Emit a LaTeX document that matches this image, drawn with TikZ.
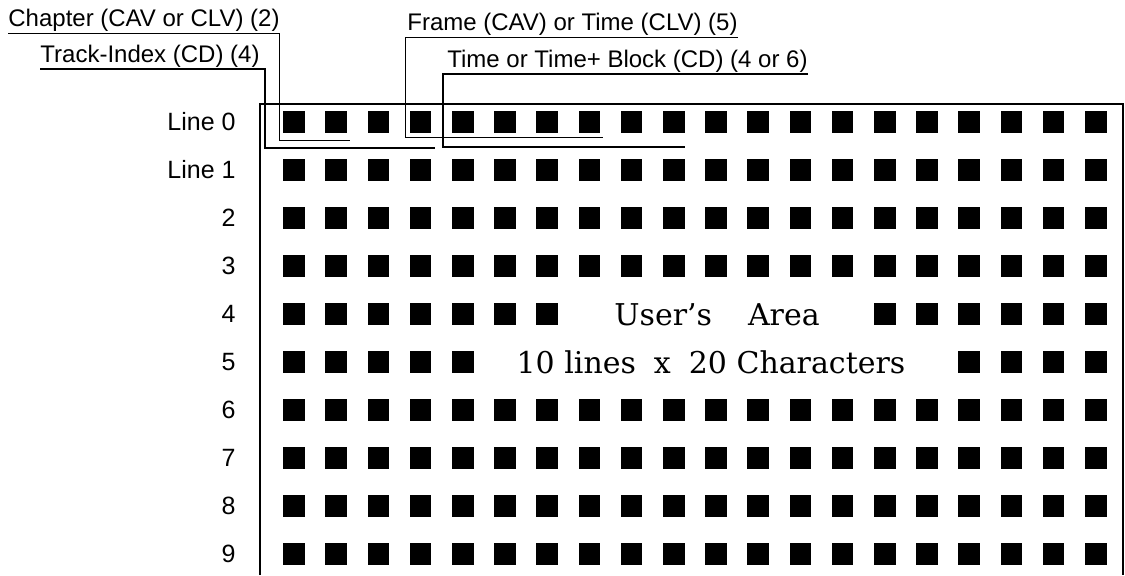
\documentclass[tikz,border=0pt]{standalone}
\usepackage{fontspec}
\setmainfont{Liberation Sans}
\newfontfamily\areafont{DejaVu Serif}
\tikzset{
  cell/.style={fill=black,minimum size=10.75pt,inner sep=0pt},
  rowlbl/.style={anchor=base east,inner sep=0pt,font=\fontsize{12.5}{14}\selectfont},
  toplbl/.style={inner sep=0pt,inner ysep=0.75pt,font=\fontsize{12}{14}\selectfont},
  areatxt/.style={anchor=base,inner sep=0pt,font=\areafont\fontsize{15}{18}\selectfont},
  thinln/.style={line width=0.5pt},
  thickln/.style={line width=1pt}
}
\begin{document}
\begin{tikzpicture}[x=0.5pt,y=-0.5pt]
  \useasboundingbox (0,0) rectangle (1125,575);
  % display frame
  \draw[line width=0.9pt] (260,575) |- (1123,104) -- (1123,575);
  % line numbers
  \node[rowlbl] (r0) at (236,130) {Line 0};
  \node[rowlbl] (r1) at (236,178) {Line 1};
  \foreach \r in {2,...,9} \node[rowlbl] (r\r) at (236,130+48*\r) {\r};
  % character cells
  \foreach \r in {0,1,2,3,6,7,8,9}
    \foreach \c in {1,...,20}
      \node[cell] (c\r-\c) at (251.8+42.2*\c,122+48*\r) {};
  \foreach \c in {1,2,3,4,5,6,7,15,16,17,18,19,20} \node[cell] (c4-\c) at (251.8+42.2*\c,314) {};
  \foreach \c in {1,2,3,4,5,17,18,19,20} \node[cell] (c5-\c) at (251.8+42.2*\c,362) {};
  \node[areatxt] (area) at (717,325) {User’s\hspace{1.2em}Area};
  \node[areatxt] (size) at (711,373) {10 lines\hspace{0.6em}x\hspace{0.6em}20 Characters};
  % field labels
  \node[toplbl,anchor=south west] (chap) at (8,33) {Chapter (CAV or CLV) (2)};
  \node[toplbl,anchor=south west] (track) at (40,69) {Track-Index (CD) (4)};
  \node[toplbl,anchor=south east] (frame) at (738,37) {Frame (CAV) or Time (CLV) (5)};
  \node[toplbl,anchor=south east] (tblk) at (808,74) {Time or Time+ Block (CD) (4 or 6)};
  \coordinate (chapdrop) at (279,140);
  \coordinate (chapend) at (350,140);
  \coordinate (trackdrop) at (265,148);
  \coordinate (trackend) at (435,148);
  \coordinate (framedrop) at (405,137);
  \coordinate (frameend) at (603,137);
  \coordinate (tblkdrop) at (443,147);
  \coordinate (tblkend) at (685,147);
  \draw[thinln] (chap.south west) -| (chapdrop) -- (chapend);
  \draw[thickln] (track.south west) -| (trackdrop) -- (trackend);
  \draw[thinln] (frame.south east) -| (framedrop) -- (frameend);
  \draw[thickln] (tblk.south east) -| (tblkdrop) -- (tblkend);
\end{tikzpicture}
\end{document}
